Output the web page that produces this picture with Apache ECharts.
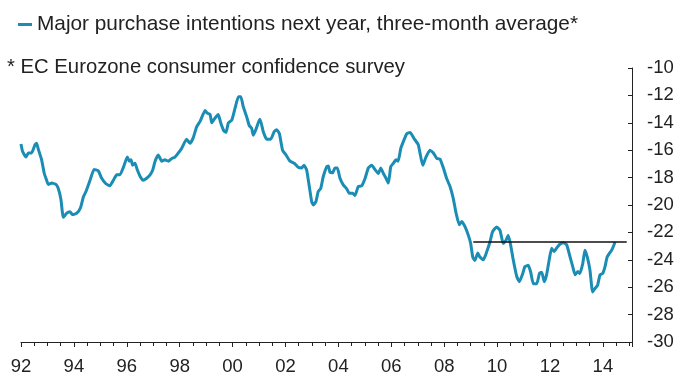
<!DOCTYPE html>
<html>
<head>
<meta charset="utf-8">
<script src="https://cdn.jsdelivr.net/npm/echarts@6/dist/echarts.min.js"></script>
<style>
html,body{margin:0;padding:0;background:#fff;}
#chart{width:680px;height:382px;}
</style>
</head>
<body>
<div id="chart"></div>
<script>
// Decimal years (x) and index values (y)
const years = [
1992.00,1992.06,1992.19,1992.28,1992.40,1992.53,1992.59,1992.65,1992.78,1992.88,1992.97,
1993.03,1993.16,1993.32,1993.41,1993.51,1993.60,1993.73,1993.85,1993.95,
1994.11,1994.25,1994.36,1994.46,1994.61,1994.76,1994.92,
1995.05,1995.21,1995.36,1995.49,1995.62,1995.74,1995.87,
1996.02,1996.09,1996.16,1996.22,1996.31,1996.40,1996.50,1996.62,1996.75,1996.88,1996.98,
1997.07,1997.19,1997.32,1997.44,1997.57,1997.70,1997.82,1997.95,
1998.08,1998.26,1998.39,1998.51,1998.64,1998.77,1998.96,
1999.04,1999.15,1999.21,1999.30,1999.40,1999.46,1999.55,1999.67,1999.75,1999.84,1999.97,
2000.09,2000.22,2000.31,2000.40,2000.53,2000.63,2000.72,2000.78,2000.88,2000.97,
2001.04,2001.16,2001.29,2001.44,2001.57,2001.67,2001.77,2001.89,
2002.02,2002.17,2002.33,2002.48,2002.61,2002.70,2002.80,2002.90,2002.99,
2003.05,2003.15,2003.24,2003.33,2003.43,2003.56,2003.62,2003.68,2003.78,2003.87,2003.96,
2004.06,2004.19,2004.31,2004.41,2004.54,2004.63,2004.75,2004.88,
2005.01,2005.13,2005.26,2005.38,2005.51,2005.60,2005.70,2005.80,2005.89,2005.98,
2006.08,2006.18,2006.26,2006.36,2006.45,2006.58,2006.71,2006.86,
2007.02,2007.19,2007.31,2007.46,2007.59,2007.72,2007.84,2007.97,
2008.09,2008.22,2008.34,2008.45,2008.57,2008.66,2008.79,2008.91,
2009.00,2009.08,2009.16,2009.27,2009.35,2009.48,2009.61,2009.73,2009.83,2009.98,
2010.11,2010.23,2010.34,2010.42,2010.51,2010.61,2010.74,2010.84,2010.97,
2011.05,2011.18,2011.27,2011.37,2011.50,2011.60,2011.69,2011.78,2011.87,2011.97,
2012.06,2012.15,2012.25,2012.35,2012.50,2012.63,2012.76,2012.86,2012.95,
2013.05,2013.13,2013.24,2013.32,2013.41,2013.51,2013.61,2013.70,2013.80,2013.89,2013.99,
2014.08,2014.16,2014.24,2014.33,2014.39,2014.46
];
const values = [
-15.55,-16.1,-16.5,-16.2,-16.2,-15.6,-15.5,-15.9,-16.7,-17.7,-18.2,
-18.5,-18.4,-18.5,-18.8,-19.6,-20.9,-20.6,-20.5,-20.7,
-20.6,-20.2,-19.4,-19.0,-18.2,-17.4,-17.5,
-18.05,-18.45,-18.6,-18.2,-17.8,-17.8,-17.25,
-16.5,-16.8,-16.7,-17.1,-16.95,-17.45,-17.9,-18.2,-18.05,-17.8,-17.45,
-16.8,-16.35,-16.8,-16.7,-16.8,-16.6,-16.5,-16.2,
-15.85,-15.2,-15.5,-15.1,-14.3,-13.9,-13.1,
-13.3,-13.4,-14.0,-13.75,-13.5,-13.4,-14.0,-14.6,-14.7,-14.0,-13.8,
-12.95,-12.1,-12.1,-12.8,-13.55,-14.2,-14.4,-14.9,-14.5,-14.0,
-13.75,-14.65,-15.2,-15.2,-14.65,-14.5,-14.8,-16.0,
-16.35,-16.8,-16.95,-17.25,-17.3,-17.1,-17.45,-18.65,-19.75,
-20.0,-19.75,-19.0,-18.8,-17.9,-17.2,-17.15,-17.6,-17.65,-17.3,-17.3,
-18.05,-18.55,-18.8,-19.15,-19.15,-19.3,-18.65,-18.6,
-18.05,-17.3,-17.1,-17.4,-17.7,-17.3,-17.7,-18.05,-18.4,-17.2,
-16.95,-16.7,-16.8,-15.85,-15.4,-14.8,-14.7,-15.15,
-15.6,-17.1,-16.5,-16.0,-16.2,-16.6,-16.65,-17.3,
-18.05,-18.65,-19.5,-20.6,-21.45,-21.2,-21.6,-22.2,
-22.8,-23.8,-24.05,-23.5,-23.8,-24.0,-23.4,-22.7,-21.95,-21.6,
-21.85,-22.8,-22.55,-22.2,-22.9,-24.0,-25.2,-25.6,-25.0,
-24.5,-24.4,-24.9,-25.75,-25.75,-25.0,-24.9,-25.6,-25.1,-24.0,
-23.15,-23.4,-23.15,-22.9,-22.75,-22.9,-23.8,-24.5,-25.1,
-24.85,-25.0,-24.25,-23.3,-23.8,-24.75,-26.35,-26.1,-25.85,-25.1,-25.0,
-24.5,-23.8,-23.55,-23.3,-23.05,-22.7
];
// Horizontal reference level
const refYears = [2009.1, 2014.9];
const refLevel = -22.7;

const seriesName = 'Major purchase intentions next year, three-month average*';
const footnote = '* EC Eurozone consumer confidence survey';

const lineData = years.map((y, i) => [y, values[i]]);
const refData = refYears.map(y => [y, refLevel]);

const chart = echarts.init(document.getElementById('chart'), null, {renderer: 'canvas'});
chart.setOption({
  animation: false,
  backgroundColor: '#ffffff',
  title: {
    text: footnote,
    left: 2, top: 52,
    textStyle: {fontFamily: 'Liberation Sans, Arial, sans-serif', fontSize: 20.3, fontWeight: 'normal', color: '#222'}
  },
  legend: {
    data: [seriesName],
    left: 13, top: 9,
    icon: 'rect', itemWidth: 14, itemHeight: 3, itemGap: 3,
    textStyle: {fontFamily: 'Liberation Sans, Arial, sans-serif', fontSize: 20.8, color: '#222'}
  },
  grid: {left: 21, right: 48, top: 68, bottom: 40, containLabel: false},
  xAxis: {
    type: 'value', min: 1992, max: 2015.1, interval: 2,
    axisLine: {show: true, lineStyle: {color: '#222', width: 1}},
    axisTick: {show: true, length: 5, lineStyle: {color: '#222'}},
    minorTick: {show: true, splitNumber: 4, length: 4, lineStyle: {color: '#222'}},
    splitLine: {show: false},
    axisLabel: {
      margin: 15, color: '#222', fontSize: 18.5, fontFamily: 'Liberation Sans, Arial, sans-serif',
      showMaxLabel: false,
      formatter: v => String(Math.round(v) % 100).padStart(2, '0')
    }
  },
  yAxis: {
    type: 'value', position: 'right', min: -30, max: -10, interval: 2,
    axisLine: {show: true, lineStyle: {color: '#222', width: 1}},
    axisTick: {show: true, inside: true, length: 4, lineStyle: {color: '#222'}},
    splitLine: {show: false},
    axisLabel: {margin: 15, color: '#222', fontSize: 18.5, fontFamily: 'Liberation Sans, Arial, sans-serif'}
  },
  series: [
    {
      name: seriesName, type: 'line', data: lineData,
      showSymbol: false, symbol: 'none', smooth: 0.15,
      lineStyle: {color: '#1b8cb4', width: 3},
      itemStyle: {color: '#1b8cb4'}
    },
    {
      name: 'ref', type: 'line', data: refData,
      showSymbol: false, symbol: 'none',
      lineStyle: {color: '#111', width: 1.5},
      z: 3
    }
  ]
});
</script>
</body>
</html>
